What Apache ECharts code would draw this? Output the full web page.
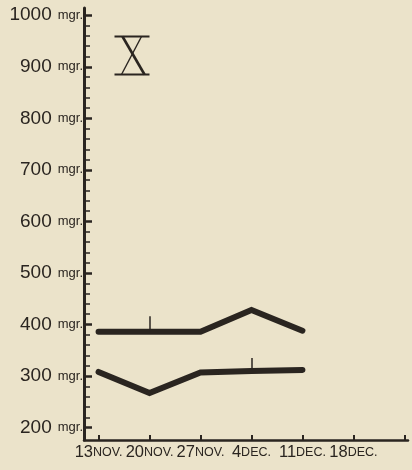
<!DOCTYPE html>
<html>
<head>
<meta charset="utf-8">
<script src="https://cdn.jsdelivr.net/npm/echarts@6/dist/echarts.min.js"></script>
<style>
html,body{margin:0;padding:0;background:#ebe3ca;}
#c{width:412px;height:470px;}
</style>
</head>
<body>
<div id="c"></div>
<script>
// Days after 13 Nov
const dayValues = [0, 7, 14, 21, 28];
const xTickDays = [0, 7, 14, 21, 28, 35, 42];
const xLabelDays = [0, 7, 14, 21, 28, 35];
const xTickLabels = ['13NOV.', '20NOV.', '27NOV.', '4DEC.', '11DEC.', '18DEC.'];
const yTickValues = [200, 300, 400, 500, 600, 700, 800, 900, 1000];
const upperSeries = [386, 386, 386, 428, 388];
const lowerSeries = [308, 267, 307, 310, 312];
// small vertical marks: [day, from, to]
const upperMark = [7, 386, 416];
const lowerMark = [21, 310, 335];

const INK = '#2a2520';
const FONT = '"Liberation Sans", Arial, sans-serif';

const minorTicks = [];
for (let v = 220; v <= 1000; v += 20) if (v % 100 !== 0) minorTicks.push(v);

const chart = echarts.init(document.getElementById('c'), null, {renderer: 'canvas'});

function xLabel(v) {
  const i = xLabelDays.indexOf(v);
  if (i < 0) return '';
  const t = xTickLabels[i];
  const m = t.match(/^(\d+)(.*)$/);
  return '{d|' + m[1] + '}{t|' + m[2] + '}';
}
const xRich = {
  d: {fontFamily: FONT, fontSize: 16.5, color: INK},
  t: {fontFamily: FONT, fontSize: 12.5, color: INK}
};
const evenDays = xLabelDays.filter((d, i) => i % 2 === 0);
const oddDays = xLabelDays.filter((d, i) => i % 2 === 1);

const option = {
  backgroundColor: '#ebe3ca',
  animation: false,
  grid: {left: 84, right: 4, top: 8, bottom: 30, containLabel: false},
  xAxis: [{
    type: 'value', min: -2, max: 42.5, position: 'bottom',
    axisLine: {show: true, onZero: false, lineStyle: {color: INK, width: 2.5}},
    axisTick: {show: true, inside: true, length: 5, lineStyle: {color: INK, width: 2}, customValues: xTickDays},
    axisLabel: {show: true, margin: 4, customValues: evenDays, formatter: xLabel, hideOverlap: false, rich: xRich},
    splitLine: {show: false}
  }, {
    type: 'value', min: -2, max: 42.5, position: 'bottom',
    axisLine: {show: false, onZero: false},
    axisTick: {show: false},
    axisLabel: {show: true, margin: 4, customValues: oddDays, formatter: xLabel, hideOverlap: false, rich: xRich},
    splitLine: {show: false}
  }],
  yAxis: [{
    type: 'value', min: 176, max: 1014,
    axisLine: {show: true, onZero: false, lineStyle: {color: INK, width: 3}},
    axisTick: {show: true, inside: true, length: 8, lineStyle: {color: INK, width: 2.5}, customValues: yTickValues},
    axisLabel: {
      show: true, margin: 1, customValues: yTickValues, hideOverlap: false,
      formatter: v => '{n|' + v + '}{m|mgr.}',
      rich: {
        n: {fontFamily: FONT, fontSize: 19, color: INK, padding: [0, 6, 0, 0]},
        m: {fontFamily: FONT, fontSize: 13, color: INK}
      }
    },
    splitLine: {show: false}
  }, {
    type: 'value', min: 176, max: 1014, position: 'left',
    axisLine: {show: false, onZero: false},
    axisTick: {show: true, inside: true, length: 6, lineStyle: {color: INK, width: 1.5}, customValues: minorTicks},
    axisLabel: {show: false},
    splitLine: {show: false}
  }],
  series: [{
    type: 'line', xAxisIndex: 0, yAxisIndex: 0,
    data: dayValues.map((d, i) => [d, upperSeries[i]]),
    symbol: 'none',
    lineStyle: {color: INK, width: 6, cap: 'round', join: 'miter'},
    markLine: {
      silent: true, symbol: 'none', label: {show: false},
      lineStyle: {color: INK, width: 1.5, type: 'solid'},
      data: [[{coord: [upperMark[0], upperMark[1]]}, {coord: [upperMark[0], upperMark[2]]}]]
    }
  }, {
    type: 'line', xAxisIndex: 0, yAxisIndex: 0,
    data: dayValues.map((d, i) => [d, lowerSeries[i]]),
    symbol: 'none',
    lineStyle: {color: INK, width: 6, cap: 'round', join: 'miter'},
    markLine: {
      silent: true, symbol: 'none', label: {show: false},
      lineStyle: {color: INK, width: 1.5, type: 'solid'},
      data: [[{coord: [lowerMark[0], lowerMark[1]]}, {coord: [lowerMark[0], lowerMark[2]]}]]
    }
  }],
  graphic: [{
    type: 'group', left: 112, top: 34,
    children: [
      {type: 'line', shape: {x1: 0, y1: 1, x2: 35, y2: 1}, style: {stroke: INK, lineWidth: 2.2}},
      {type: 'line', shape: {x1: 0, y1: 39, x2: 35, y2: 39}, style: {stroke: INK, lineWidth: 2.2}},
      {type: 'line', shape: {x1: 8, y1: 1, x2: 30, y2: 39}, style: {stroke: INK, lineWidth: 2.6}},
      {type: 'line', shape: {x1: 27, y1: 1, x2: 7, y2: 39}, style: {stroke: INK, lineWidth: 1.4}}
    ]
  }]
};
chart.setOption(option);
</script>
</body>
</html>
